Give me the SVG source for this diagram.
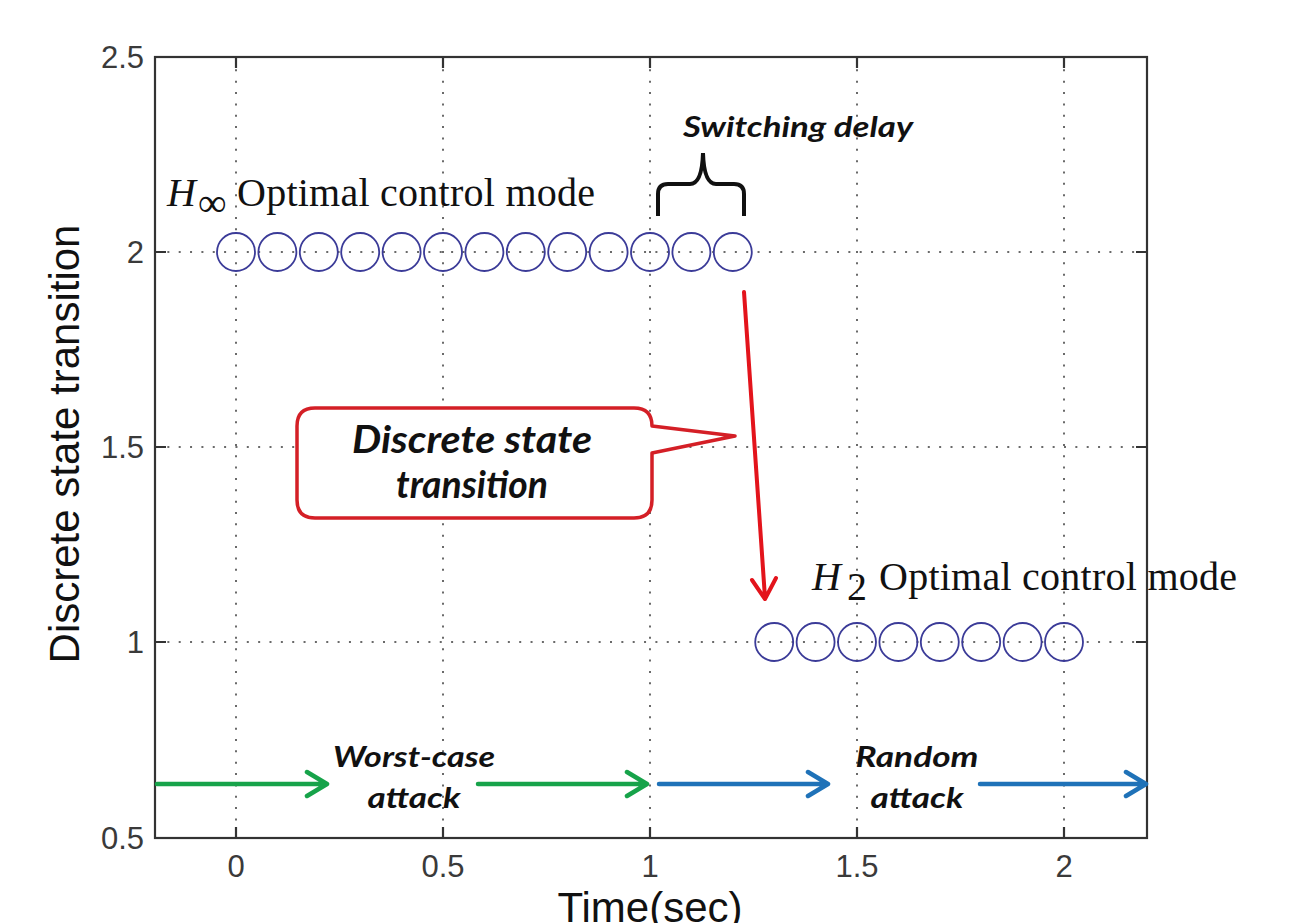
<svg xmlns="http://www.w3.org/2000/svg" width="1291" height="923" viewBox="0 0 1291 923">
<defs>
<style>
.grid{stroke:#6a6a6a;stroke-width:2;stroke-dasharray:2 9.35;fill:none}
.axis{stroke:#333;stroke-width:2.2;fill:none}
.tick{stroke:#333;stroke-width:2.2}
.tl{font-family:"Liberation Sans",Arial,sans-serif;font-size:31px;fill:#3a3a3a}
.lab{font-family:"Liberation Sans",Arial,sans-serif;font-size:42px;fill:#111}
.pt{fill:none;stroke:#3b3b98;stroke-width:1.8}
.ser{font-family:"Liberation Serif","Times New Roman",serif;font-size:40px;fill:#111}
.ann{font-family:Lato,"Liberation Sans",sans-serif;font-weight:bold;font-style:italic;fill:#111}
.garr{stroke:#17a34a;stroke-width:4.5;fill:none;stroke-linecap:round;stroke-linejoin:round}
.barr{stroke:#1f72b8;stroke-width:4.5;fill:none;stroke-linecap:round;stroke-linejoin:round}
</style>
</defs>
<rect width="1291" height="923" fill="#fff"/>
<g id="grid">
<line class="grid" x1="236" y1="58" x2="236" y2="837"/>
<line class="grid" x1="443" y1="58" x2="443" y2="837"/>
<line class="grid" x1="650" y1="58" x2="650" y2="837"/>
<line class="grid" x1="857" y1="58" x2="857" y2="837"/>
<line class="grid" x1="1064" y1="58" x2="1064" y2="837"/>
<line class="grid" x1="156" y1="252" x2="1146" y2="252"/>
<line class="grid" x1="156" y1="447" x2="1146" y2="447"/>
<line class="grid" x1="156" y1="642" x2="1146" y2="642"/>
</g>
<g id="axes">
<rect class="axis" x="155" y="57" width="992" height="781"/>
<path class="tick" d="M236,838v-11M443,838v-11M650,838v-11M857,838v-11M1064,838v-11M236,57v11M443,57v11M650,57v11M857,57v11M1064,57v11M155,252h11M155,447h11M155,642h11M1147,252h-11M1147,447h-11M1147,642h-11"/>
<text class="tl" x="144" y="68" text-anchor="end">2.5</text>
<text class="tl" x="144" y="263" text-anchor="end">2</text>
<text class="tl" x="144" y="458" text-anchor="end">1.5</text>
<text class="tl" x="144" y="653" text-anchor="end">1</text>
<text class="tl" x="144" y="849" text-anchor="end">0.5</text>
<text class="tl" x="236" y="877" text-anchor="middle">0</text>
<text class="tl" x="443" y="877" text-anchor="middle">0.5</text>
<text class="tl" x="650" y="877" text-anchor="middle">1</text>
<text class="tl" x="857" y="877" text-anchor="middle">1.5</text>
<text class="tl" x="1064" y="877" text-anchor="middle">2</text>
<text class="lab" x="650" y="922" font-size="40" text-anchor="middle">Time(sec)</text>
<text class="lab" transform="translate(79,444) rotate(-90)" text-anchor="middle">Discrete state transition</text>
</g>
<g id="points-hinf">
<circle class="pt" cx="236" cy="252" r="19"/>
<circle class="pt" cx="277.4" cy="252" r="19"/>
<circle class="pt" cx="318.8" cy="252" r="19"/>
<circle class="pt" cx="360.2" cy="252" r="19"/>
<circle class="pt" cx="401.6" cy="252" r="19"/>
<circle class="pt" cx="443" cy="252" r="19"/>
<circle class="pt" cx="484.4" cy="252" r="19"/>
<circle class="pt" cx="525.8" cy="252" r="19"/>
<circle class="pt" cx="567.2" cy="252" r="19"/>
<circle class="pt" cx="608.6" cy="252" r="19"/>
<circle class="pt" cx="650" cy="252" r="19"/>
<circle class="pt" cx="691.4" cy="252" r="19"/>
<circle class="pt" cx="732.8" cy="252" r="19"/>
</g>
<g id="points-h2">
<circle class="pt" cx="774.2" cy="642" r="19"/>
<circle class="pt" cx="815.6" cy="642" r="19"/>
<circle class="pt" cx="857" cy="642" r="19"/>
<circle class="pt" cx="898.4" cy="642" r="19"/>
<circle class="pt" cx="939.8" cy="642" r="19"/>
<circle class="pt" cx="981.2" cy="642" r="19"/>
<circle class="pt" cx="1022.6" cy="642" r="19"/>
<circle class="pt" cx="1064" cy="642" r="19"/>
</g>
<g id="label-hinf">
<text class="ser" x="167" y="206" font-style="italic">H</text>
<text class="ser" x="198" y="216" font-size="15">∞</text>
<text class="ser" x="237" y="206" textLength="358" lengthAdjust="spacing">Optimal control mode</text>
</g>
<g id="label-h2">
<text class="ser" x="812" y="590" font-style="italic">H</text>
<text class="ser" x="847" y="600" font-size="18">2</text>
<text class="ser" x="879" y="590" textLength="358" lengthAdjust="spacing">Optimal control mode</text>
</g>
<g id="switching-delay">
<text class="ann" x="683" y="137" font-size="28" textLength="230" lengthAdjust="spacingAndGlyphs">Switching delay</text>
<path d="M658,216V194Q658,184 668,184H690Q702,184 703,153Q704,184 716,184H734Q744,184 744,194V216" fill="none" stroke="#111" stroke-width="4"/>
</g>
<g id="callout">
<path d="M315,408H634Q652,408 652,426L735,436L652,453V500Q652,518 634,518H315Q297,518 297,500V426Q297,408 315,408Z" fill="#fff" stroke="#d41f26" stroke-width="3.5" stroke-linejoin="round"/>
<text class="ann" x="472" y="453" font-size="38" text-anchor="middle" textLength="240" lengthAdjust="spacingAndGlyphs">Discrete state</text>
<text class="ann" x="472" y="498" font-size="38" text-anchor="middle" textLength="152" lengthAdjust="spacingAndGlyphs">transition</text>
</g>
<g id="connectors">
<path d="M744,292L765,598M752,580L765,599L776,578" fill="none" stroke="#e3141c" stroke-width="4" stroke-linecap="round" stroke-linejoin="round"/>
<path class="garr" d="M157,784H327M307,772L327,784L307,796"/>
<path class="garr" d="M478,784H647M627,772L647,784L627,796"/>
<path class="barr" d="M659,784H828M808,772L828,784L808,796"/>
<path class="barr" d="M980,784H1146M1126,772L1146,784L1126,796"/>
</g>
<g id="attack-labels">
<text class="ann" x="414" y="767" font-size="28" text-anchor="middle" textLength="162" lengthAdjust="spacingAndGlyphs">Worst-case</text>
<text class="ann" x="414" y="808" font-size="28" text-anchor="middle" textLength="93" lengthAdjust="spacingAndGlyphs">attack</text>
<text class="ann" x="917" y="767" font-size="28" text-anchor="middle" textLength="123" lengthAdjust="spacingAndGlyphs">Random</text>
<text class="ann" x="917" y="808" font-size="28" text-anchor="middle" textLength="93" lengthAdjust="spacingAndGlyphs">attack</text>
</g>
</svg>
